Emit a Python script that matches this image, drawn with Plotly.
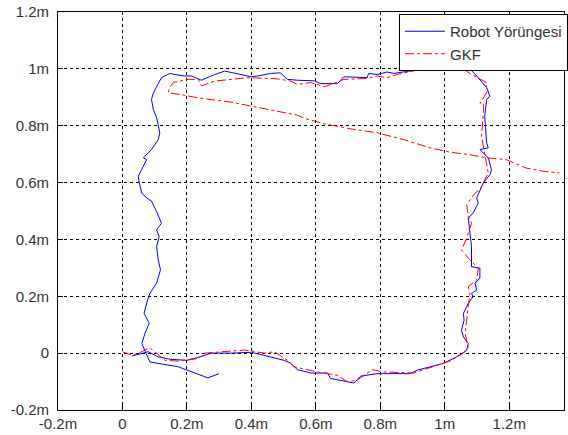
import plotly.graph_objects as go

# Robot trajectory (blue)
robot_x = [0.03, 0.05, 0.08, 0.11, 0.15, 0.20, 0.235, 0.275, 0.34, 0.40, 0.45, 0.50, 0.52, 0.543,
           0.585, 0.636, 0.646, 0.718, 0.739, 0.79, 0.893, 0.914, 0.996, 1.037, 1.068, 1.073, 1.058,
           1.052, 1.06, 1.058, 1.073, 1.088, 1.083, 1.099, 1.094, 1.109, 1.109, 1.083, 1.083, 1.078,
           1.073, 1.088, 1.104, 1.099, 1.12, 1.14, 1.145, 1.135, 1.109, 1.135, 1.13, 1.124, 1.13,
           1.14, 1.13, 1.099, 1.078, 1.047, 1.016, 1.006, 0.975, 0.934, 0.873, 0.842, 0.821, 0.79,
           0.764, 0.759, 0.687, 0.667, 0.615, 0.595, 0.543, 0.512, 0.49, 0.46, 0.42, 0.40, 0.368,
           0.317, 0.286, 0.245, 0.214, 0.193, 0.163, 0.147, 0.121, 0.106, 0.096, 0.09, 0.096, 0.106,
           0.116, 0.111, 0.09, 0.065, 0.075, 0.049, 0.052, 0.06, 0.075, 0.09, 0.106, 0.121, 0.106,
           0.114, 0.106, 0.111, 0.118, 0.106, 0.085, 0.078, 0.067, 0.083, 0.07, 0.06, 0.07, 0.085,
           0.173, 0.265, 0.30]
robot_y = [-0.01, -0.003, 0.005, -0.013, -0.022, -0.025, -0.015, 0.0, 0.0, 0.003, -0.01, -0.025,
           -0.034, -0.058, -0.07, -0.07, -0.089, -0.105, -0.081, -0.072, -0.072, -0.06, -0.036,
           -0.013, 0.01, 0.034, 0.057, 0.081, 0.116, 0.14, 0.175, 0.199, 0.21, 0.222, 0.246, 0.264,
           0.299, 0.304, 0.375, 0.422, 0.475, 0.493, 0.528, 0.546, 0.599, 0.628, 0.645, 0.687, 0.716,
           0.722, 0.74, 0.833, 0.892, 0.904, 0.934, 0.975, 1.0, 1.008, 1.024, 1.02, 1.01, 1.0, 0.99,
           0.984, 0.989, 0.98, 0.984, 0.969, 0.972, 0.948, 0.948, 0.958, 0.96, 0.963, 0.986, 0.984,
           0.975, 0.972, 0.98, 0.992, 0.98, 0.96, 0.975, 0.975, 0.98, 0.984, 0.969, 0.94, 0.916,
           0.892, 0.857, 0.828, 0.775, 0.751, 0.716, 0.687, 0.681, 0.622, 0.60, 0.563, 0.546, 0.535,
           0.498, 0.457, 0.434, 0.41, 0.375, 0.328, 0.293, 0.246, 0.21, 0.187, 0.14, 0.105, 0.07,
           0.034, 0.01, -0.031, -0.048, -0.087, -0.072]

# GKF estimate (red)
gkf_x = [0.0, 0.029, 0.05, 0.085, 0.10, 0.132, 0.173, 0.235, 0.255, 0.337, 0.38, 0.44, 0.471, 0.512,
         0.533, 0.605, 0.667, 0.698, 0.728, 0.775, 0.81, 0.903, 0.934, 1.016, 1.058, 1.073, 1.063,
         1.068, 1.073, 1.078, 1.073, 1.099, 1.104, 1.078, 1.052, 1.068, 1.083, 1.073, 1.068, 1.094,
         1.109, 1.135, 1.114, 1.12, 1.12, 1.109, 1.13, 1.13, 1.083, 1.058, 1.016, 0.975, 0.924,
         0.893, 0.852, 0.821, 0.79, 0.759, 0.687, 0.646, 0.626, 0.584, 0.543, 0.522, 0.48, 0.39,
         0.337, 0.286, 0.245, 0.235, 0.204, 0.173, 0.157, 0.147, 0.142, 0.193, 0.235, 0.337, 0.40,
         0.471, 0.543, 0.564, 0.626, 0.708, 0.79, 0.873, 0.955, 1.016, 1.078, 1.13, 1.19, 1.253,
         1.305, 1.356]
gkf_y = [0.005, -0.007, 0.0, 0.019, 0.005, -0.025, -0.028, -0.019, 0.0, 0.008, 0.011, 0.0, 0.005,
         -0.025, -0.048, -0.066, -0.078, -0.101, -0.095, -0.058, -0.066, -0.07, -0.058, -0.028, 0.0,
         0.022, 0.07, 0.116, 0.163, 0.21, 0.234, 0.257, 0.299, 0.328, 0.363, 0.404, 0.457, 0.481,
         0.522, 0.563, 0.575, 0.634, 0.763, 0.846, 0.88, 0.88, 0.916, 0.952, 0.98, 1.0, 1.01, 1.01,
         0.998, 0.99, 0.98, 0.969, 0.975, 0.966, 0.963, 0.945, 0.937, 0.952, 0.945, 0.957, 0.965,
         0.969, 0.963, 0.957, 0.94, 0.963, 0.963, 0.957, 0.952, 0.934, 0.916, 0.907, 0.898, 0.883,
         0.869, 0.851, 0.837, 0.826, 0.807, 0.789, 0.775, 0.751, 0.722, 0.707, 0.698, 0.687, 0.681,
         0.651, 0.64, 0.634]

x_tickvals = [-0.2, 0, 0.2, 0.4, 0.6, 0.8, 1.0, 1.2]
x_ticktext = ["-0.2m", "0", "0.2m", "0.4m", "0.6m", "0.8m", "1m", "1.2m"]
y_tickvals = [-0.2, 0, 0.2, 0.4, 0.6, 0.8, 1.0, 1.2]
y_ticktext = ["-0.2m", "0", "0.2m", "0.4m", "0.6m", "0.8m", "1m", "1.2m"]

fig = go.Figure()
fig.add_trace(go.Scatter(x=robot_x, y=robot_y, mode="lines", name="Robot Yörüngesi",
                         line=dict(color="#0000FF", width=1)))
fig.add_trace(go.Scatter(x=gkf_x, y=gkf_y, mode="lines", name="GKF",
                         line=dict(color="#FF0000", width=1, dash="dashdot")))

axis_common = dict(
    showline=True, linecolor="black", linewidth=1, mirror=True,
    ticks="inside", ticklen=5, tickcolor="black",
    showgrid=True, gridcolor="black", gridwidth=1, griddash="3px,3px",
    zeroline=False, tickfont=dict(family="Liberation Sans, Arial", size=15, color="#333333"),
)

fig.update_xaxes(range=[-0.2, 1.37], tickvals=x_tickvals, ticktext=x_ticktext, **axis_common)
fig.update_yaxes(range=[-0.2, 1.2], tickvals=y_tickvals, ticktext=y_ticktext,
                 ticklabelstandoff=5, **axis_common)

fig.update_layout(
    width=568, height=435,
    margin=dict(l=58, r=0, t=12, b=25),
    paper_bgcolor="white", plot_bgcolor="white",
    showlegend=True,
    legend=dict(x=0.6745, y=0.995, xanchor="left", yanchor="top",
                bgcolor="white", bordercolor="black", borderwidth=1,
                font=dict(family="Liberation Sans, Arial", size=15, color="#333333"),
                tracegroupgap=0, itemwidth=40),
    font=dict(family="Liberation Sans, Arial"),
)

fig.write_html("out.html")
